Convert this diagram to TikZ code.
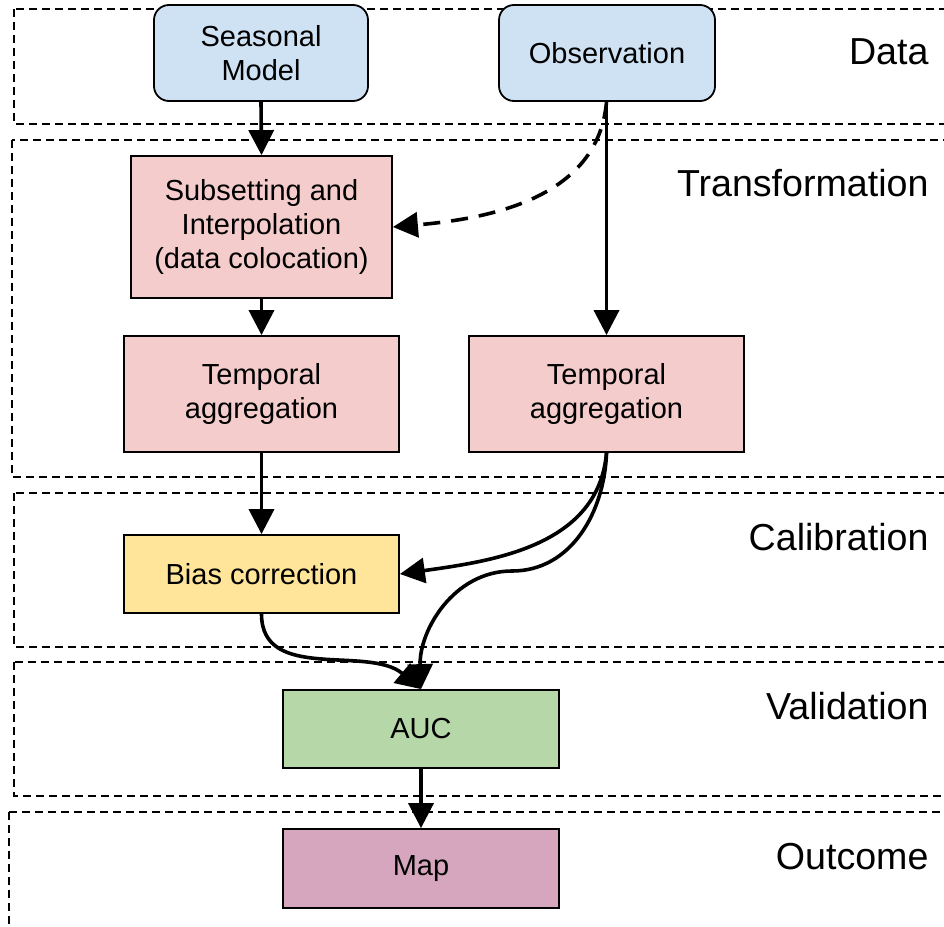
\documentclass[tikz,border=0pt]{standalone}
\usepackage{fontspec}
\setmainfont{Liberation Sans}
\usetikzlibrary{arrows.meta}
\definecolor{inblue}{HTML}{CFE2F3}
\definecolor{trpink}{HTML}{F4CCCC}
\definecolor{calyel}{HTML}{FFE599}
\definecolor{valgreen}{HTML}{B6D7A8}
\definecolor{outpurple}{HTML}{D5A6BD}
\tikzset{
  band/.style={draw, line width=2pt, dash pattern=on 8pt off 5pt},
  bandlabel/.style={anchor=east, font=\fontsize{37.6}{42}\selectfont},
  box/.style={draw, line width=1.8pt, inner sep=0pt, align=center,
    font=\fontsize{29}{34}\selectfont},
  srcbox/.style={box, fill=inblue, rounded corners=15pt},
  flow/.style={line width=3.6pt, -{Triangle[length=25pt,width=25pt]}},
  dflow/.style={flow, dash pattern=on 17pt off 11pt}
}
\begin{document}
\begin{tikzpicture}[x=1pt, y=-1pt]
\useasboundingbox (0,0) rectangle (944,926);
\clip (0,0) rectangle (944,926);

% stage bands
\draw[band] (14,9) rectangle (970,124);
\draw[band] (12,140) rectangle (970,477);
\draw[band] (14,493) rectangle (970,647);
\draw[band] (14,662) rectangle (970,796);
\draw[band] (9,812) rectangle (970,960);

\node[bandlabel] (lData) at (932,52) {Data};
\node[bandlabel] (lTrans) at (932,183) {Transformation};
\node[bandlabel] (lCal) at (932,537) {Calibration};
\node[bandlabel] (lVal) at (932,706) {Validation};
\node[bandlabel] (lOut) at (932,857) {Outcome};

% process boxes
\node[srcbox, minimum width=214pt, minimum height=96pt] (sm) at (261,53) {Seasonal\\Model};
\node[srcbox, minimum width=216pt, minimum height=96pt] (obs) at (607,53) {Observation};
\node[box, fill=trpink, minimum width=261pt, minimum height=142pt] (sub) at (261.5,227) {Subsetting and\\Interpolation\\(data colocation)};
\node[box, fill=trpink, minimum width=275pt, minimum height=116pt] (tl) at (261.5,394) {Temporal\\aggregation};
\node[box, fill=trpink, minimum width=275pt, minimum height=116pt] (tr) at (606.5,394) {Temporal\\aggregation};
\node[box, fill=calyel, minimum width=275pt, minimum height=78pt] (bias) at (261.5,574) {Bias correction};
\node[box, fill=valgreen, minimum width=276pt, minimum height=78pt] (auc) at (421,729) {AUC};
\node[box, fill=outpurple, minimum width=276pt, minimum height=79pt] (map) at (421,868.5) {Map};

\coordinate (bend) at (512,571);

% connectors
\draw[flow] (sm.south) -- (sub.north);
\draw[flow] (sub.south -| tl.north) -- (tl.north);
\draw[flow] (tl.south) -- (bias.north);
\draw[flow] (obs.south -| tr.north) -- (tr.north);
\draw[dflow] (obs.south -| tr.north) to[out=-95, in=5] (sub.east);
\draw[flow] (tr.south) to[out=-95, in=8] (bias.east);
\draw[flow] (tr.south) to[out=-92, in=0] (bend) to[out=180, in=92] (auc.north);
\draw[flow] (bias.south) to[out=-90, in=140] (auc.north);
\draw[flow] (auc.south) -- (map.north);
\end{tikzpicture}
\end{document}
